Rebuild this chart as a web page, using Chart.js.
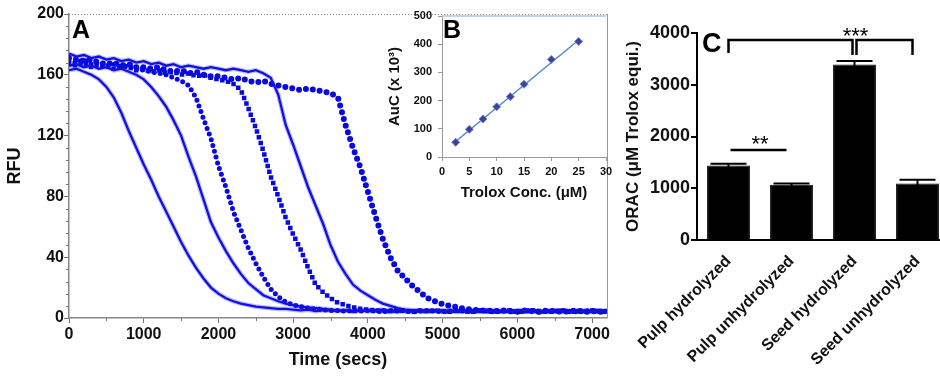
<!DOCTYPE html>
<html>
<head>
<meta charset="utf-8">
<script src="https://cdn.jsdelivr.net/npm/chart.js@4.4.1/dist/chart.umd.min.js"></script>
<style>
  body { margin: 0; background: #fff; }
  #wrap { position: relative; width: 940px; height: 376px; overflow: hidden; background: #fff; }
  canvas { position: absolute; top: 0; }
  #chartA { left: 0; }
  #chartB { left: 380px; }
  #chartC { left: 620px; }
</style>
</head>
<body>
<div id="wrap">
  <canvas id="chartA" width="620" height="376"></canvas>
  <canvas id="chartB" width="240" height="205"></canvas>
  <canvas id="chartC" width="340" height="376"></canvas>
</div>
<script>
// ---- Panel A: fluorescence decay (RFU vs time) ----
var timeTicks = [0, 1000, 2000, 3000, 4000, 5000, 6000, 7000];
var timeSecs = [
  0, 100, 200, 300, 400, 500, 600, 700, 800, 900,
  1000, 1100, 1200, 1300, 1400, 1500, 1600, 1700, 1800, 1900,
  2000, 2100, 2200, 2300, 2400, 2500, 2600, 2700, 2800, 2900,
  3000, 3100, 3200, 3300, 3400, 3500, 3600, 3700, 3800, 3900,
  4000, 4100, 4200, 4300, 4400, 4500, 4600, 4700, 4800, 4900,
  5000, 5100, 5200, 5300, 5400, 5500, 5600, 5700, 5800, 5900,
  6000, 6100, 6200, 6300, 6400, 6500, 6600, 6700, 6800, 6900,
  7000, 7100, 7200
];
var rfuCurve1 = [
  163, 164, 162, 160, 157, 152, 145, 135, 123, 112,
  101, 91, 80, 70, 60, 50, 41, 33, 26, 20,
  16, 13, 11, 9.5, 8.5, 7.5, 7, 6.5, 6, 6,
  5.5, 5, 5.5, 4.5, 5, 5, 4.5, 5, 4, 5,
  4.5, 5, 5.5, 4.5, 4, 5, 4.5, 5, 4, 4.5,
  5, 4.5, 4, 5, 4.5, 4, 5, 4.5, 4, 4.5,
  5, 4, 4.5, 4, 5, 4.5, 4, 4.5, 4, 5,
  4.5, 4, 4.5
];
var rfuCurve2 = [
  166, 167, 165, 166, 164, 165, 163, 164, 162, 160,
  157, 152, 146, 139, 130, 120, 106, 93, 78, 63,
  53, 44, 36, 29, 23, 19, 15, 13, 11, 9.5,
  8.5, 7.5, 7, 6.5, 6, 5.5, 5, 5, 4.5, 5,
  4.5, 5, 4.5, 4, 5, 4.5, 5, 4, 4.5, 5,
  4.5, 4, 5, 4.5, 4, 4.5, 5, 4, 4.5, 4,
  4.5, 5, 4, 4.5, 4, 5, 4.5, 4, 4.5, 4,
  4.5, 5, 4
];
var rfuCurve3 = [
  169, 168, 170, 167, 168, 166, 167, 165, 166, 164,
  163, 162, 161, 160, 158, 156, 153, 145, 131, 118,
  100, 86, 70, 58, 46, 36, 27, 19, 14, 10.5,
  8.5, 7.5, 6.5, 6, 5.5, 5, 5, 4.5, 5, 4.5,
  5, 4.5, 4, 5, 4.5, 5, 4, 4.5, 5, 4.5,
  4, 4.5, 5, 4.5, 4, 5, 4.5, 4, 4.5, 5,
  4, 4.5, 5, 4, 4.5, 4, 5, 4.5, 4, 4.5,
  5, 4, 4.5
];
var rfuCurve4 = [
  167, 166, 168, 165, 167, 166, 164, 166, 165, 163,
  164, 162, 163, 161, 162, 160, 161, 159, 160, 158,
  157, 156, 154, 150, 138, 125, 110, 93, 80, 66,
  55, 45, 33, 22, 17, 13, 10, 8.5, 7, 6,
  5.5, 5, 5, 4.5, 5, 4.5, 4, 5, 4.5, 5,
  4.5, 4, 5, 4.5, 4, 5, 4.5, 4, 4.5, 5,
  4, 4.5, 5, 4.5, 4, 4.5, 5, 4, 4.5, 4,
  5, 4.5, 4
];
var rfuCurve5 = [
  174, 172, 173, 171, 172, 170, 171, 169, 170, 168,
  169, 167, 168, 166, 167, 165, 166, 165, 164, 165,
  164, 163, 164, 163, 162, 163, 161, 158, 147, 127,
  114, 100, 86, 74, 62, 48, 37, 29, 22, 18,
  15, 12, 9.5, 8, 6.5, 5.5, 5, 5, 4.5, 5,
  4.5, 5, 4, 4.5, 5, 4.5, 4, 5, 4.5, 4,
  4.5, 5, 4, 4.5, 4, 5, 4.5, 4, 5, 4.5,
  4, 4.5, 5
];
var rfuCurve6 = [
  171, 170, 169, 170, 168, 167, 168, 166, 167, 165,
  165, 164, 165, 163, 162, 163, 161, 162, 160, 159,
  159, 158, 157, 158, 156, 155, 156, 154, 153, 152,
  151, 150, 151, 150, 149, 148, 145, 127, 112, 99,
  83, 67, 52, 40, 31, 26, 21, 17, 13, 11,
  9, 8, 7, 6, 5.5, 5, 5, 4.5, 5, 4.5,
  4, 5, 4.5, 4, 5, 4.5, 4, 4.5, 5, 4,
  4.5, 4, 4.5
];

// ---- Panel B: Trolox standard curve ----
var troloxConc = [2.5, 5, 7.5, 10, 12.5, 15, 20, 25];
var aucValues = [52, 98, 135, 178, 214, 258, 346, 410];
var fitConc = [2.5, 25];
var fitAuc = [55, 415];

// ---- Panel C: ORAC bars ----
var samples = ['Pulp hydrolyzed', 'Pulp unhydrolyzed', 'Seed hydrolyzed', 'Seed unhydrolyzed'];
var oracValues = [1440, 1070, 3390, 1090];
var oracErrors = [35, 20, 70, 75];
var pairBarY = 1740;          // ** line
var groupBracketY = 3865;     // *** bracket
var groupBracketDrop = [3614, 3575, 3575, 3575];

var FONT = '"Liberation Sans", Arial, sans-serif';
Chart.defaults.font.family = FONT;
Chart.defaults.animation = false;

function pts(xs, ys) {
  return xs.map(function(x, i) { return { x: x, y: ys[i] }; });
}
function plain(v) { return String(v); }

function solidCurve(ys) {
  return [
    { data: pts(timeSecs, ys), showLine: true, borderColor: '#1010e6', borderWidth: 2.3, pointRadius: 0, order: 1 },
    { data: pts(timeSecs, ys), showLine: true, borderColor: 'rgba(150,150,235,0.6)', borderWidth: 4.6, pointRadius: 0, order: 2 }
  ];
}

function dotCurve(ys, width, gap, cap) {
  return { data: pts(timeSecs, ys), showLine: true, borderColor: '#0808e0', borderWidth: width,
           borderDash: [0, gap], borderCapStyle: cap, pointRadius: 0, order: 1 };
}

var frameA = {
  id: 'frameA',
  afterDraw: function(chart) {
    var ctx = chart.ctx, a = chart.chartArea;
    var xs = chart.scales.x, ys = chart.scales.y;
    ctx.save();
    ctx.strokeStyle = '#888';
    ctx.lineWidth = 1;
    ctx.setLineDash([1, 2]);
    ctx.beginPath();
    ctx.moveTo(a.left, a.top + 0.5);
    ctx.lineTo(a.right, a.top + 0.5);
    ctx.stroke();
    ctx.setLineDash([]);
    ctx.strokeStyle = '#999';
    ctx.beginPath();
    ctx.moveTo(a.right + 0.5, a.top);
    ctx.lineTo(a.right + 0.5, a.bottom);
    ctx.stroke();
    // minor ticks
    ctx.strokeStyle = '#777';
    ctx.beginPath();
    for (var v = 8; v < 200; v += 8) {
      if (v % 40 === 0) continue;
      var py = Math.round(ys.getPixelForValue(v)) + 0.5;
      ctx.moveTo(a.left - 3, py);
      ctx.lineTo(a.left, py);
    }
    for (var t = 500; t < 7200; t += 1000) {
      var px = Math.round(xs.getPixelForValue(t)) + 0.5;
      ctx.moveTo(px, a.bottom);
      ctx.lineTo(px, a.bottom + 3);
    }
    ctx.stroke();
    ctx.fillStyle = '#000';
    ctx.font = 'bold 25px ' + FONT;
    ctx.fillText('A', a.left + 3, a.top + 24);
    ctx.restore();
  }
};

new Chart(document.getElementById('chartA'), {
  type: 'scatter',
  data: {
    datasets: [].concat(
      solidCurve(rfuCurve1),
      solidCurve(rfuCurve2),
      [dotCurve(rfuCurve3, 5, 6, 'round')],
      [dotCurve(rfuCurve4, 4.5, 6, 'square')],
      solidCurve(rfuCurve5),
      [dotCurve(rfuCurve6, 6, 7, 'round')]
    )
  },
  plugins: [frameA],
  options: {
    responsive: false,
    layout: { padding: { left: 0, right: 13, top: 14, bottom: 0 } },
    plugins: { legend: { display: false }, tooltip: { enabled: false } },
    scales: {
      x: {
        type: 'linear', min: 0, max: 7200,
        afterFit: function(s) { s.height = 58; },
        afterBuildTicks: function(s) { s.ticks = timeTicks.map(function(v) { return { value: v }; }); },
        ticks: { color: '#111', font: { size: 16, weight: 'bold' }, padding: 2, maxRotation: 0, autoSkip: false, callback: plain },
        grid: { display: true, drawOnChartArea: false, drawTicks: true, tickLength: 5, color: '#777' },
        border: { display: true, color: '#888', width: 1.5, dash: [2, 1] },
        title: { display: true, text: 'Time (secs)', color: '#111', font: { size: 18, weight: 'bold' }, padding: { top: 4, bottom: 5 } }
      },
      y: {
        min: 0, max: 200,
        afterFit: function(s) { s.width = 69; },
        ticks: { stepSize: 40, color: '#111', font: { size: 16, weight: 'bold' }, padding: 0, callback: plain },
        grid: { display: true, drawOnChartArea: false, drawTicks: true, tickLength: 5, color: '#777' },
        border: { display: true, color: '#888', width: 1.5, dash: [2, 1] },
        title: { display: true, text: 'RFU', color: '#111', font: { size: 18, weight: 'bold' }, padding: { top: 4, bottom: 0 } }
      }
    }
  }
});

var frameB = {
  id: 'frameB',
  beforeDraw: function(chart) {
    var ctx = chart.ctx, a = chart.chartArea;
    ctx.save();
    ctx.fillStyle = '#fff';
    ctx.fillRect(a.left, a.top, a.right - a.left, a.bottom - a.top);
    ctx.restore();
  },
  afterDraw: function(chart) {
    var ctx = chart.ctx, a = chart.chartArea;
    ctx.save();
    ctx.strokeStyle = '#a9c6e8';
    ctx.lineWidth = 1.5;
    ctx.beginPath();
    ctx.moveTo(a.left, a.top);
    ctx.lineTo(a.right, a.top);
    ctx.stroke();
    ctx.fillStyle = '#000';
    ctx.font = 'bold 25px ' + FONT;
    ctx.fillText('B', a.left + 1, a.top + 22);
    ctx.restore();
  }
};

new Chart(document.getElementById('chartB'), {
  type: 'scatter',
  data: {
    datasets: [
      { data: pts(troloxConc, aucValues), pointStyle: 'rectRot', pointRadius: 4, backgroundColor: '#3a43a0', borderColor: '#7c84c8', borderWidth: 1, order: 1 },
      { data: pts(fitConc, fitAuc), showLine: true, borderColor: '#5089c8', borderWidth: 1.5, pointRadius: 0, order: 2 }
    ]
  },
  plugins: [frameB],
  options: {
    responsive: false,
    layout: { padding: { left: 0, right: 14, top: 16, bottom: 0 } },
    plugins: { legend: { display: false }, tooltip: { enabled: false } },
    scales: {
      x: {
        type: 'linear', min: 0, max: 30,
        afterFit: function(s) { s.height = 48; },
        ticks: { stepSize: 5, color: '#111', font: { size: 11, weight: 'bold' }, padding: 4, maxRotation: 0 },
        grid: { display: true, drawOnChartArea: false, tickLength: 4, color: '#999' },
        border: { display: true, color: '#999', width: 1 },
        title: { display: true, text: 'Trolox Conc. (μM)', color: '#111', font: { size: 15, weight: 'bold' }, padding: { top: 2, bottom: 3 } }
      },
      y: {
        min: 0, max: 500,
        afterFit: function(s) { s.width = 62; },
        ticks: { stepSize: 100, color: '#111', font: { size: 11, weight: 'bold' }, padding: 6 },
        grid: { display: true, drawOnChartArea: false, tickLength: 4, color: '#999' },
        border: { display: true, color: '#999', width: 1 },
        title: { display: true, text: 'AuC (x 10³)', color: '#111', font: { size: 15, weight: 'bold' }, padding: { top: 6, bottom: 0 } }
      }
    }
  }
});

var marksC = {
  id: 'marksC',
  afterDatasetsDraw: function(chart) {
    var ctx = chart.ctx, a = chart.chartArea;
    var xs = chart.scales.x, ys = chart.scales.y;
    ctx.save();
    ctx.strokeStyle = '#000';
    ctx.lineWidth = 2;
    // error bars
    oracValues.forEach(function(v, i) {
      var cx = xs.getPixelForValue(i);
      var top = ys.getPixelForValue(v + oracErrors[i]);
      var bot = ys.getPixelForValue(v - oracErrors[i]);
      ctx.beginPath();
      ctx.moveTo(cx, bot);
      ctx.lineTo(cx, top);
      ctx.moveTo(cx - 18, top);
      ctx.lineTo(cx + 18, top);
      ctx.stroke();
    });
    // significance lines
    ctx.lineWidth = 2.5;
    var c0 = xs.getPixelForValue(0), c1 = xs.getPixelForValue(1);
    var c2 = xs.getPixelForValue(2), c3 = xs.getPixelForValue(3);
    var yp = ys.getPixelForValue(pairBarY);
    ctx.beginPath();
    ctx.moveTo(c0 + 2, yp);
    ctx.lineTo(c1 - 5, yp);
    ctx.stroke();
    var yb = ys.getPixelForValue(groupBracketY);
    ctx.beginPath();
    ctx.moveTo(c0, ys.getPixelForValue(groupBracketDrop[0]));
    ctx.lineTo(c0, yb);
    ctx.lineTo(c2 - 2, yb);
    ctx.lineTo(c2 - 2, ys.getPixelForValue(groupBracketDrop[1]));
    ctx.moveTo(c2 + 2, ys.getPixelForValue(groupBracketDrop[2]));
    ctx.lineTo(c2 + 2, yb);
    ctx.lineTo(c3 - 5, yb);
    ctx.lineTo(c3 - 5, ys.getPixelForValue(groupBracketDrop[3]));
    ctx.stroke();
    ctx.fillStyle = '#000';
    ctx.textAlign = 'center';
    ctx.font = '22px ' + FONT;
    ctx.fillText('**', (c0 + c1) / 2, yp + 1);
    ctx.fillText('***', c2 + 1, yb + 3);
    ctx.textAlign = 'left';
    ctx.font = 'bold 27px ' + FONT;
    ctx.fillText('C', a.left + 5, a.top + 19);
    ctx.restore();
  }
};

new Chart(document.getElementById('chartC'), {
  type: 'bar',
  data: {
    labels: samples,
    datasets: [{
      data: oracValues,
      backgroundColor: '#000',
      borderColor: '#000',
      borderWidth: 1,
      barPercentage: 0.68,
      categoryPercentage: 1.0
    }]
  },
  plugins: [marksC],
  options: {
    responsive: false,
    layout: { padding: { left: 0, right: 11, top: 33, bottom: 0 } },
    plugins: { legend: { display: false }, tooltip: { enabled: false } },
    scales: {
      x: {
        afterFit: function(s) { s.height = 136; },
        ticks: { color: '#111', font: { size: 16, weight: 'bold' }, minRotation: 45, maxRotation: 45, padding: 4 },
        grid: { display: false },
        border: { display: true, color: '#000', width: 2 }
      },
      y: {
        min: 0, max: 4000,
        afterFit: function(s) { s.width = 77; },
        ticks: { stepSize: 1000, color: '#111', font: { size: 18, weight: 'bold' }, padding: 1, callback: plain },
        grid: { display: true, drawOnChartArea: false, tickLength: 6, color: '#000', lineWidth: 2 },
        border: { display: true, color: '#000', width: 2 },
        title: { display: true, text: 'ORAC (μM Trolox equi.)', color: '#111', font: { size: 17, weight: 'bold' }, padding: { top: 3, bottom: 0 } }
      }
    }
  }
});
</script>
</body>
</html>
